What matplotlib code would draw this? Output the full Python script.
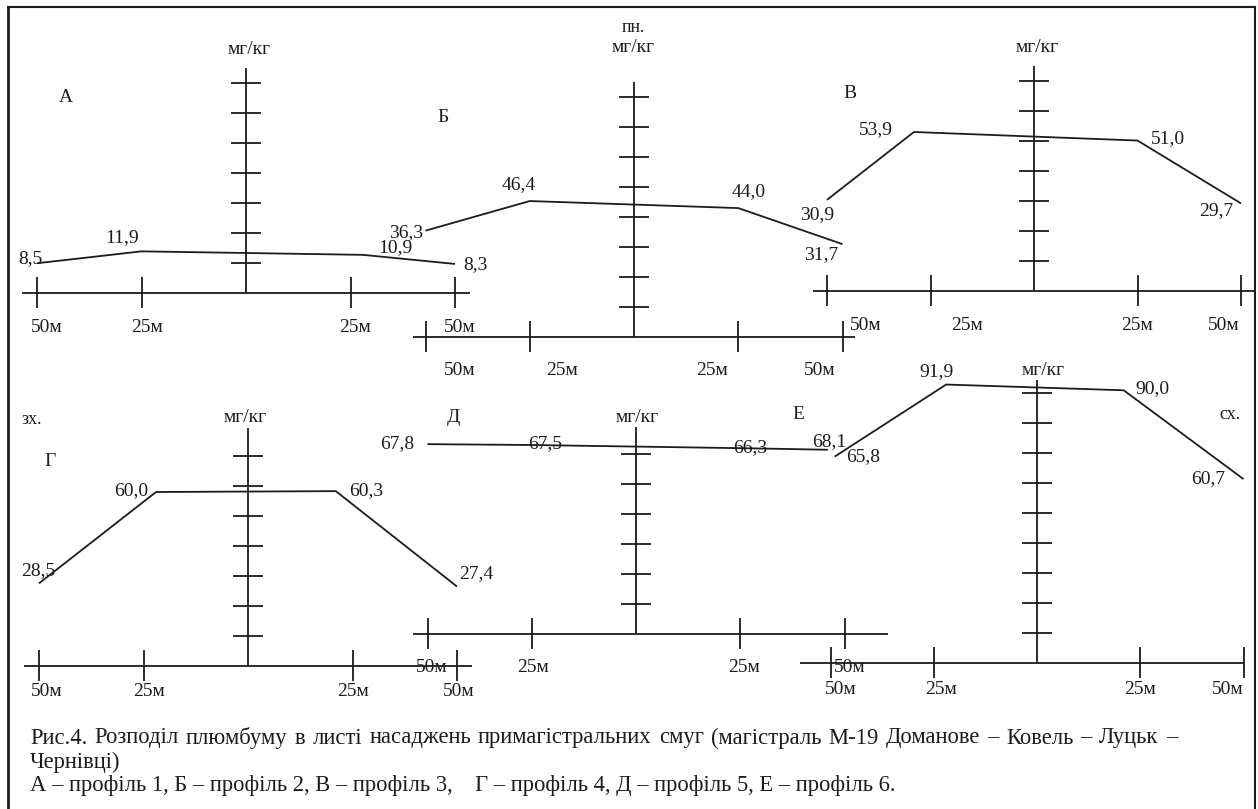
import matplotlib
matplotlib.use('Agg')
import matplotlib.pyplot as plt
from matplotlib.lines import Line2D

# профілі: відстань від дороги (м) та вміст свинцю (мг/кг)
a_x = [-50, -25, 28, 50]
a_vals = [8.5, 11.9, 10.9, 8.3]
b_x = [-50, -25, 25, 50]
b_vals = [36.3, 46.4, 44.0, 31.7]
v_x = [-50, -29, 25, 50]
v_vals = [30.9, 53.9, 51.0, 29.7]
g_x = [-50, -22, 21, 50]
g_vals = [28.5, 60.0, 60.3, 27.4]
d_x = [-50, -25, 28, 46]
d_vals = [67.8, 67.5, 66.3, 65.8]
e_x = [-49, -22, 21, 50]
e_vals = [68.1, 91.9, 90.0, 60.7]

dist_ticks = [-50, -25, 25, 50]
dist_labels = ['50м', '25м', '25м', '50м']
names = ['А', 'Б', 'В', 'Г', 'Д', 'Е']

W, H = 1258, 809
INK = '#1c1c1c'
FS = 14
plt.rcParams['font.family'] = ['Liberation Serif', 'DejaVu Serif']

fig = plt.figure(figsize=(W / 100, H / 100), dpi=100)


def make_panel(cx, base, sx, sy):
    # axes in metres / mg per kg, placed so that x=0,y=0 sits at pixel (cx, base)
    x0, x1 = -62, 62
    left = cx + x0 * sx
    ax = fig.add_axes([left / W, (H - base - 50) / H, (x1 - x0) * sx / W, 370 / H])
    ax.set_xlim(x0, x1)
    ax.set_ylim(-50 / sy, 320 / sy)
    ax.axis('off')
    return ax


def draw_panel(p, xs, vals):
    ax = make_panel(p['cx'], p['base'], p['sx'], p['sy'])
    sx, sy = p['sx'], p['sy']
    kw = dict(color=INK, lw=1.3, clip_on=False, solid_capstyle='butt')
    # cross of axes
    ax.plot([0, 0], [0, p['vtop'] / sy], **kw)
    for k in range(1, p['nt'] + 1):
        ax.plot([-15 / sx, 15 / sx], [k * 30 / sy, k * 30 / sy], **kw)
    ax.plot(p['hx'], [0, 0], **kw)
    for t, lab, dx in zip(dist_ticks, dist_labels, p['ldx']):
        ax.plot([t, t], [-15 / sy, 16 / sy], **kw)
        ax.annotate(lab, (t, 0), xytext=(dx, -p['ldy']), textcoords='offset pixels',
                    ha='center', va='center', fontsize=FS, color=INK, annotation_clip=False)
    # profile
    ax.plot(xs, vals, **kw)
    for x, v, off in zip(xs, vals, p['off']):
        ax.annotate(f'{v:.1f}'.replace('.', ','), (x, v), xytext=off, textcoords='offset pixels',
                    ha='center', va='center', fontsize=FS, color=INK, annotation_clip=False)
    ax.annotate('мг/кг', (0, p['vtop'] / sy), xytext=p['unit'], textcoords='offset pixels',
                ha='center', va='center', fontsize=FS, color=INK, annotation_clip=False)
    return ax


panels = [
    dict(cx=246, base=293, sx=4.18, sy=3.5, hx=(-53.6, 53.6), vtop=225, nt=7,
         ldx=[10, 6, 4, 5], ldy=34, unit=(3, 19),
         off=[(-7, 5), (-19, 14), (32, 7), (20, -1)]),
    dict(cx=634, base=337, sx=4.17, sy=2.93, hx=(-53, 53), vtop=255, nt=8,
         ldx=[34, 32, -26, -23], ldy=33, unit=(-1, 34),
         off=[(-19, -2), (-11, 16), (10, 16), (-21, -10)]),
    dict(cx=1034, base=291, sx=4.14, sy=2.95, hx=(-53.4, 53.4), vtop=225, nt=7,
         ldx=[39, 37, -1, -17], ldy=34, unit=(3, 18),
         off=[(-10, -15), (-38, 2), (30, 2), (-25, -7)]),
    dict(cx=248, base=666, sx=4.18, sy=2.9, hx=(-53.6, 53.6), vtop=238, nt=7,
         ldx=[8, 6, 0, 2], ldy=26, unit=(-3, 10),
         off=[(-1, 13), (-25, 1), (30, 1), (19, 13)]),
    dict(cx=636, base=634, sx=4.17, sy=2.8, hx=(-53.5, 60.4), vtop=207, nt=6,
         ldx=[4, 1, 4, 5], ldy=33, unit=(1, 10),
         off=[(-30, 1), (13, 1), (-3, 1), (35, -7)]),
    dict(cx=1037, base=663, sx=4.13, sy=3.03, hx=(-57.4, 50), vtop=283, nt=9,
         ldx=[10, 7, 0, -16], ldy=27, unit=(6, 10),
         off=[(-5, 15), (-10, 13), (29, 2), (-35, 0)]),
]
series = [(a_x, a_vals), (b_x, b_vals), (v_x, v_vals),
          (g_x, g_vals), (d_x, d_vals), (e_x, e_vals)]

for p, (xs, vals) in zip(panels, series):
    draw_panel(p, xs, vals)


def ftext(x, y, s, size=FS, **kw):
    return fig.text(x / W, 1 - y / H, s, fontsize=size, color=INK, va='center', **kw)


# panel letters and compass marks
letter_pos = [(66, 97), (443, 117), (850, 93), (50, 462), (453, 417), (798, 415)]
for n, (x, y) in zip(names, letter_pos):
    ftext(x, y, n, ha='center')
ftext(633, 27, 'пн.', size=FS - 1, ha='center')
ftext(32, 420, 'зх.', size=FS - 1, ha='center')
ftext(1230, 415, 'сх.', size=FS - 1, ha='center')

# caption (first line justified to the right margin)
cap = ['Рис.4. Розподіл плюмбуму в листі насаджень примагістральних смуг (магістраль М-19 Доманове – Ковель – Луцьк –',
       'Чернівці)',
       'А – профіль 1, Б – профіль 2, В – профіль 3,    Г – профіль 4, Д – профіль 5, Е – профіль 6.']
CFS = 16.3
x_left, x_right = 30, 1177
renderer = fig.canvas.get_renderer()
words = cap[0].split(' ')
arts = [ftext(x_left, 738, w, size=CFS, ha='left') for w in words]
widths = [a.get_window_extent(renderer).width for a in arts]
gap = (x_right - x_left - sum(widths)) / (len(words) - 1)
xpos = x_left
for a, w in zip(arts, widths):
    a.set_x(xpos / W)
    xpos += w + gap
ftext(x_left, 762, cap[1], size=CFS, ha='left')
ftext(x_left, 786, cap[2], size=CFS, ha='left')

# frame
fig.add_artist(Line2D([8 / W, 8 / W], [0, 1 - 7 / H], color=INK, lw=2))
fig.add_artist(Line2D([8 / W, 1255 / W], [1 - 7 / H, 1 - 7 / H], color=INK, lw=1.5))
fig.add_artist(Line2D([1255 / W, 1255 / W], [0, 1 - 7 / H], color=INK, lw=1.5))

fig.savefig('out.png', dpi=100)
